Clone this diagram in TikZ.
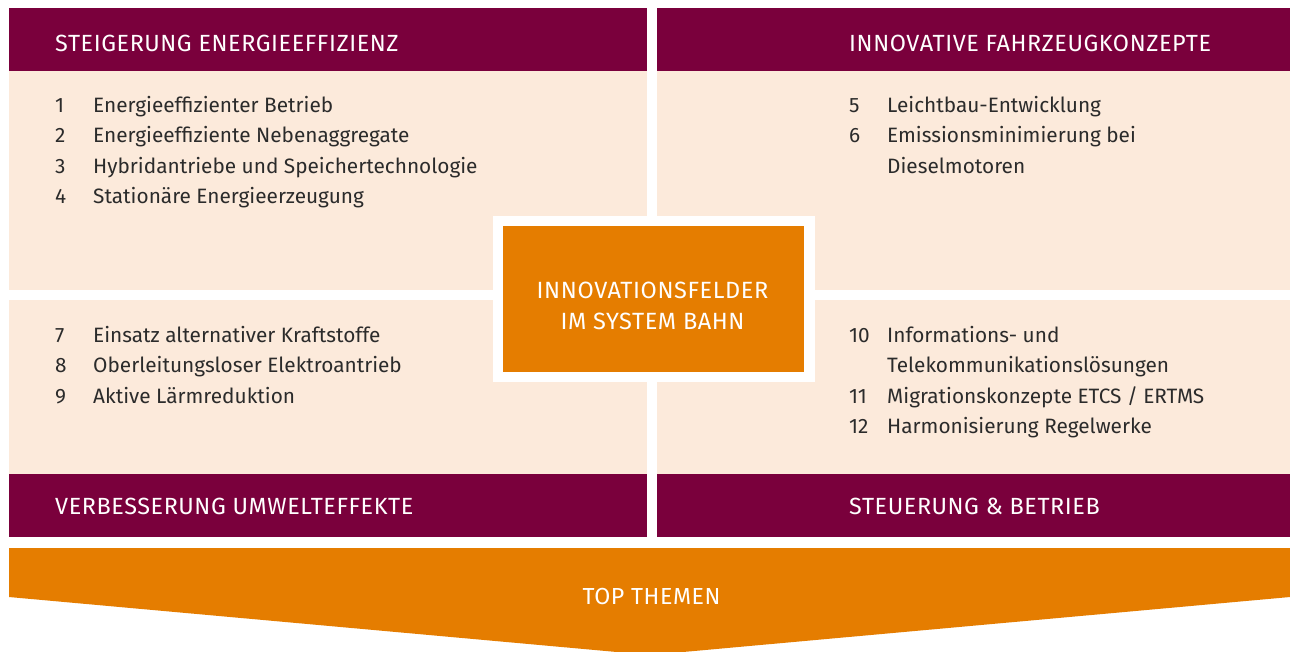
\documentclass[tikz,border=0pt]{standalone}
\usepackage{fontspec}
\setmainfont{Fira Sans}
\newfontfamily\headfont[LetterSpace=2.5]{Fira Sans}
\definecolor{maroon}{HTML}{7A003C}
\definecolor{ochre}{HTML}{E57D00}
\definecolor{pale}{HTML}{FCEADB}
\definecolor{ink}{HTML}{2B2B2B}
\tikzset{
  panel/.style={fill=pale},
  headbar/.style={fill=maroon},
  headtext/.style={anchor=base west, inner sep=0pt, text=white, font=\headfont\fontsize{23.4}{27}\selectfont},
  num/.style={anchor=base west, inner sep=0pt, text=ink, font=\fontsize{20.8}{30.5}\selectfont},
  item/.style={anchor=base west, inner sep=0pt, text=ink, align=left, font=\fontsize{20.8}{30.5}\selectfont},
  centertext/.style={inner sep=0pt, text=white, align=center, font=\headfont\fontsize{23.5}{31}\selectfont}
}
\begin{document}
\begin{tikzpicture}[x=1pt,y=-1pt]
\useasboundingbox (0,0) rectangle (1290,651);
\fill[white] (0,0) rectangle (1290,651);

% four quadrants: pale body with a coloured title bar
\fill[panel] (9,8) rectangle (647,290);
\fill[headbar] (9,8) rectangle (647,71);
\fill[panel] (657,8) rectangle (1290,290);
\fill[headbar] (657,8) rectangle (1290,71);
\fill[panel] (9,300) rectangle (647,537);
\fill[headbar] (9,474) rectangle (647,537);
\fill[panel] (657,300) rectangle (1290,537);
\fill[headbar] (657,474) rectangle (1290,537);

% central box with white frame
\fill[white] (493,216) rectangle (815,382);
\fill[ochre] (503,226) rectangle (804,372);
\node[centertext] (center) at (652.5,306) {INNOVATIONSFELDER\\IM SYSTEM BAHN};

% bottom arrow band
\fill[ochre] (9,548) -- (1290,548) -- (1290,597) -- (650,655) -- (9,597) -- cycle;
\node[centertext, font=\headfont\fontsize{23.2}{26}\selectfont] (top) at (651.5,596) {TOP THEMEN};

% titles
\node[headtext] (h1) at (55,51) {STEIGERUNG ENERGIEEFFIZIENZ};
\node[headtext] (h2) at (849,51) {INNOVATIVE FAHRZEUGKONZEPTE};
\node[headtext] (h3) at (55,514) {VERBESSERUNG UMWELTEFFEKTE};
\node[headtext] (h4) at (849,514) {STEUERUNG \& BETRIEB};

% energy efficiency items
\node[num] (n1) at (55,112) {1};   \node[item] (t1) at (93,112) {Energieeffizienter Betrieb};
\node[num] (n2) at (55,142.5) {2}; \node[item] (t2) at (93,142.5) {Energieeffiziente Nebenaggregate};
\node[num] (n3) at (55,173) {3};   \node[item] (t3) at (93,173) {Hybridantriebe und Speichertechnologie};
\node[num] (n4) at (55,203.5) {4}; \node[item] (t4) at (93,203.5) {Stationäre Energieerzeugung};

% vehicle concept items
\node[num] (n5) at (849,112) {5};   \node[item] (t5) at (887,112) {Leichtbau-Entwicklung};
\node[num] (n6) at (849,142.5) {6}; \node[item] (t6) at (887,142.5) {Emissionsminimierung bei};
\node[item] (t6b) at (887,173) {Dieselmotoren};

% environmental items
\node[num] (n7) at (55,342) {7};   \node[item] (t7) at (93,342) {Einsatz alternativer Kraftstoffe};
\node[num] (n8) at (55,372.5) {8}; \node[item] (t8) at (93,372.5) {Oberleitungsloser Elektroantrieb};
\node[num] (n9) at (55,403) {9};   \node[item] (t9) at (93,403) {Aktive Lärmreduktion};

% control and operation items
\node[num] (n10) at (849,342) {10};   \node[item] (t10) at (887,342) {Informations- und};
\node[item] (t10b) at (887,372.5) {Telekommunikationslösungen};
\node[num] (n11) at (849,403) {11};   \node[item] (t11) at (887,403) {Migrationskonzepte ETCS / ERTMS};
\node[num] (n12) at (849,433.5) {12}; \node[item] (t12) at (887,433.5) {Harmonisierung Regelwerke};
\end{tikzpicture}
\end{document}
